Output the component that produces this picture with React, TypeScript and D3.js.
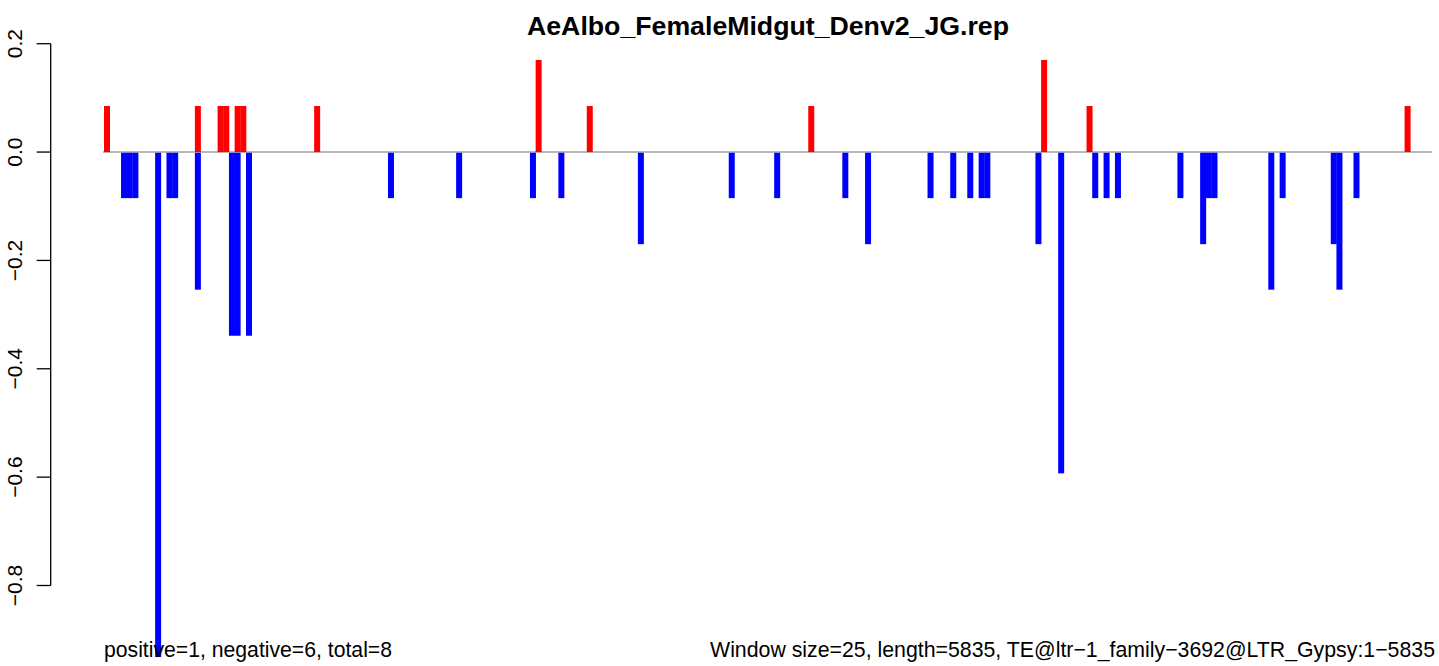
import React from "react";
import * as d3 from "d3";

const title = "AeAlbo_FemaleMidgut_Denv2_JG.rep";
const footLeft = "positive=1, negative=6, total=8";
const footRight = "Window size=25, length=5835, TE@ltr\u22121_family\u22123692@LTR_Gypsy:1\u22125835";
const nWindows = 234;

// window index and value of positive-strand bars
const posWindows = [0, 16, 20, 21, 23, 24, 37, 76, 85, 124, 165, 173, 229];
const posValues = [0.085, 0.085, 0.085, 0.085, 0.085, 0.085, 0.085, 0.17, 0.085, 0.085, 0.17, 0.085, 0.085];

// window index and value of negative-strand bars
const negWindows = [3, 4, 5, 9, 11, 12, 16, 22, 23, 25, 50, 62, 75, 80, 94, 110, 118, 130, 134, 145, 149, 152, 154, 155, 164, 168, 174, 176, 178, 189, 193, 194, 195, 205, 207, 216, 217, 220];
const negValues = [-0.085, -0.085, -0.085, -0.932, -0.085, -0.085, -0.254, -0.339, -0.339, -0.339, -0.085, -0.085, -0.085, -0.085, -0.17, -0.085, -0.085, -0.085, -0.17, -0.085, -0.085, -0.085, -0.085, -0.085, -0.17, -0.593, -0.085, -0.085, -0.085, -0.085, -0.17, -0.085, -0.085, -0.254, -0.085, -0.17, -0.254, -0.085];

const yTicks = [0.2, 0.0, -0.2, -0.4, -0.6, -0.8];

export default function App() {
  const W = 1439, H = 666;
  const x = d3.scaleLinear().domain([0, nWindows]).range([103, 1432]);
  const y = d3.scaleLinear().domain([-0.8, 0.2]).range([585.5, 43.7]);
  const barW = 6;
  const axisX = 50.7;
  const fmt = (v: number) => d3.format(".1f")(v).replace("-", "\u2212");
  const font = "'Liberation Sans', Arial, Helvetica, sans-serif";

  return (
    <svg width={W} height={H} style={{ position: "absolute", left: 0, top: 0, background: "#fff" }} fontFamily={font}>
      <text x={768} y={35} textAnchor="middle" fontSize={26.7} fontWeight="bold" fill="#000">{title}</text>
      {/* y axis */}
      <line x1={axisX} x2={axisX} y1={y(0.2)} y2={y(-0.8)} stroke="#000" strokeWidth={1.3} />
      {yTicks.map((t) => (
        <g key={t}>
          <line x1={axisX - 14} x2={axisX} y1={y(t)} y2={y(t)} stroke="#000" strokeWidth={1.3} />
          <text transform={`translate(${22},${y(t)}) rotate(-90)`} textAnchor="middle" fontSize={21} fill="#000">{fmt(t)}</text>
        </g>
      ))}
      {/* zero line */}
      <line x1={x(0)} x2={x(nWindows)} y1={y(0)} y2={y(0)} stroke="#a0a0a0" strokeWidth={1.4} />
      {posWindows.map((k, i) => (
        <rect key={"p" + i} x={x(k) + 1} width={barW} y={y(posValues[i])} height={y(0) - y(posValues[i])} fill="#ff0000" />
      ))}
      {negWindows.map((k, i) => (
        <rect key={"n" + i} x={x(k) + 1} width={barW} y={y(0) + 0.7} height={y(negValues[i]) - y(0) - 0.7} fill="#0000ff" />
      ))}
      <text x={104} y={657} fontSize={21.2} fill="#000">{footLeft}</text>
      <text x={1435} y={657} textAnchor="end" fontSize={21.3} fill="#000">{footRight}</text>
    </svg>
  );
}
